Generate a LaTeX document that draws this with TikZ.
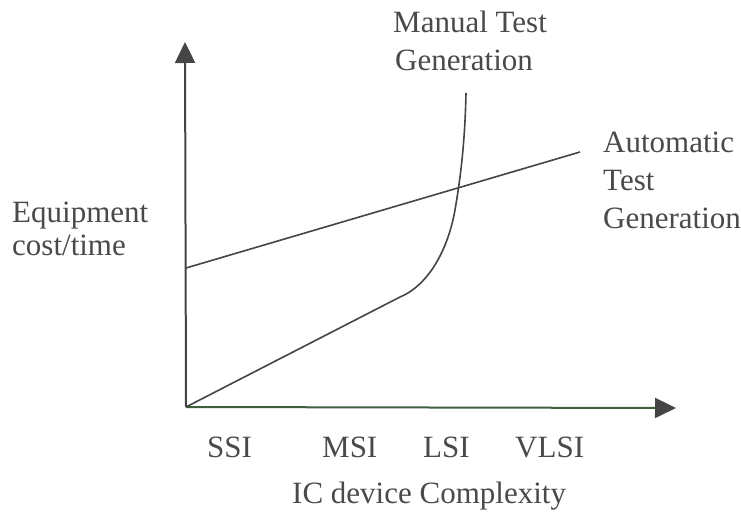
\documentclass[tikz,border=0pt]{standalone}
\usepackage{fontspec}
\setmainfont{Liberation Serif}
\usetikzlibrary{arrows.meta}
\definecolor{ink}{HTML}{454545}
\definecolor{txt}{HTML}{4A4A4A}
\definecolor{xaxis}{HTML}{3E5E3E}
\tikzset{
  lbl/.style={anchor=base west, inner sep=0pt, text=txt, font=\fontsize{31pt}{37pt}\selectfont},
  axis/.style={line width=2pt, draw=ink, -{Triangle[width=20pt,length=21pt,color=ink]}},
  plot/.style={line width=1.6pt, draw=ink},
}
\begin{document}
\begin{tikzpicture}[x=1pt,y=-1pt]
\useasboundingbox[fill=white] (0,0) rectangle (741,516);
\coordinate (O) at (186,407);
\coordinate (Ytip) at (185,42);
\coordinate (Xtip) at (676,408);
\coordinate (A1) at (186,268);
\coordinate (A2) at (580,152);
\coordinate (J) at (400,297);
\coordinate (K) at (455,210);
\coordinate (T) at (466,93);
% axes
\draw[axis] (O) -- (Ytip);
\draw[axis, draw=xaxis] (O) -- (Xtip);
% automatic test generation line
\draw[plot] (A1) -- (A2);
% manual test generation
\draw[plot] (O) -- (J);
\draw[plot] (J) .. controls (425,287) and (447,255) .. (K)
  .. controls (461,175) and (465,140) .. (T);
% labels
\node[lbl] (m1) at (393,33) {Manual Test};
\node[lbl] (m2) at (395,71) {Generation};
\node[lbl] (a1) at (603,152) {Automatic};
\node[lbl] (a2) at (603,190) {Test};
\node[lbl] (a3) at (603,228) {Generation};
\node[lbl] (e1) at (12,222) {Equipment};
\node[lbl] (e2) at (12,255) {cost/time};
\node[lbl] (s1) at (207,457) {SSI};
\node[lbl] (s2) at (322,457) {MSI};
\node[lbl] (s3) at (423,457) {LSI};
\node[lbl] (s4) at (515,457) {VLSI};
\node[lbl] (xl) at (292,503) {IC device Complexity};
\end{tikzpicture}
\end{document}
